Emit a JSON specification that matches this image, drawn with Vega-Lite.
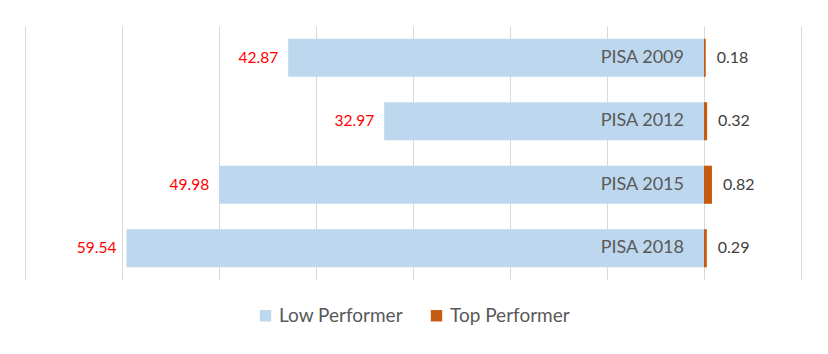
{
  "$schema": "https://vega.github.io/schema/vega-lite/v6.json",
  "width": 776,
  "height": 254,
  "autosize": {"type": "none"},
  "padding": {"left": 25, "top": 26, "right": 27, "bottom": 74},
  "background": "#ffffff",
  "config": {
    "font": "Lato",
    "view": {"stroke": null},
    "axis": {"gridColor": "#d9d9d9", "gridWidth": 1},
    "legend": {"layout": {"bottom": {"anchor": "middle"}}}
  },
  "data": {
    "values": [
      {"year": "PISA 2009", "series": "Low Performer", "value": -42.87, "label": "42.87"},
      {"year": "PISA 2012", "series": "Low Performer", "value": -32.97, "label": "32.97"},
      {"year": "PISA 2015", "series": "Low Performer", "value": -49.98, "label": "49.98"},
      {"year": "PISA 2018", "series": "Low Performer", "value": -59.54, "label": "59.54"},
      {"year": "PISA 2009", "series": "Top Performer", "value": 0.18, "label": "0.18"},
      {"year": "PISA 2012", "series": "Top Performer", "value": 0.32, "label": "0.32"},
      {"year": "PISA 2015", "series": "Top Performer", "value": 0.82, "label": "0.82"},
      {"year": "PISA 2018", "series": "Top Performer", "value": 0.29, "label": "0.29"}
    ]
  },
  "encoding": {
    "y": {
      "field": "year", "type": "nominal", "sort": null,
      "scale": {"paddingInner": 0.4, "paddingOuter": 0.2},
      "axis": null
    }
  },
  "layer": [
    {
      "mark": {"type": "bar"},
      "encoding": {
        "x": {
          "field": "value", "type": "quantitative",
          "scale": {"domain": [-70, 10], "nice": false, "zero": false},
          "axis": {"values": [-70, -60, -50, -40, -30, -20, -10, 0, 10], "labels": false, "ticks": false, "domain": false, "title": null, "grid": true}
        },
        "color": {
          "field": "series", "type": "nominal",
          "scale": {"domain": ["Low Performer", "Top Performer"], "range": ["#BDD7EE", "#C55A11"]},
          "legend": {
            "title": null, "orient": "bottom", "direction": "horizontal",
            "symbolType": "square", "symbolSize": 130, "symbolStrokeWidth": 0,
            "labelFontSize": 19, "labelColor": "#595959", "labelFont": "Lato",
            "columnPadding": 24, "offset": 26, "labelOffset": 4
          }
        }
      }
    },
    {
      "transform": [{"filter": "datum.series === 'Low Performer'"}],
      "mark": {"type": "text", "align": "right", "baseline": "middle", "dx": -10, "fontSize": 15.5, "color": "#FF0000"},
      "encoding": {
        "x": {"field": "value", "type": "quantitative"},
        "text": {"field": "label"}
      }
    },
    {
      "transform": [{"filter": "datum.series === 'Top Performer'"}],
      "mark": {"type": "text", "align": "left", "baseline": "middle", "dx": 11, "fontSize": 16, "color": "#404040"},
      "encoding": {
        "x": {"field": "value", "type": "quantitative"},
        "text": {"field": "label"}
      }
    },
    {
      "transform": [{"filter": "datum.series === 'Low Performer'"}],
      "mark": {"type": "text", "align": "right", "baseline": "middle", "dx": -20, "fontSize": 18, "color": "#595959"},
      "encoding": {
        "x": {"datum": 0, "type": "quantitative"},
        "text": {"field": "year"}
      }
    }
  ]
}
